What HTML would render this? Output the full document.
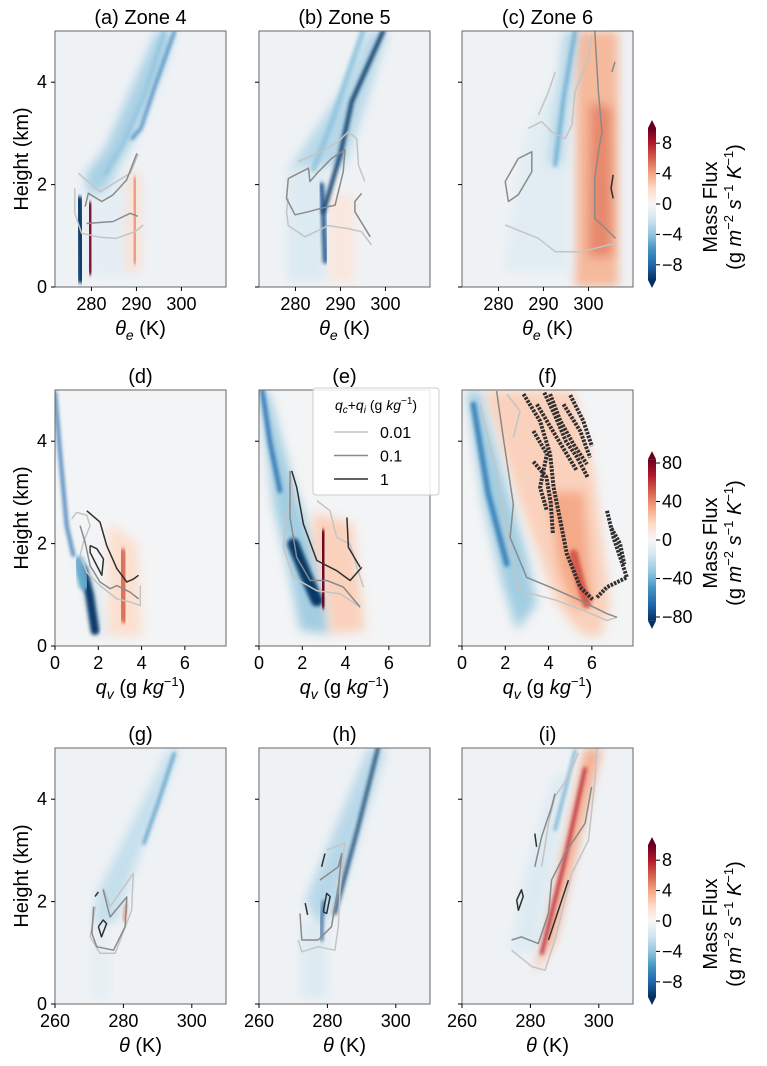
<!DOCTYPE html>
<html><head><meta charset="utf-8"><style>
html,body{margin:0;padding:0;background:#fff;}
svg{display:block;font-family:"Liberation Sans","DejaVu Sans",sans-serif;}
</style></head><body>
<svg id="fig" width="767" height="1066" viewBox="0 0 767 1066" xmlns="http://www.w3.org/2000/svg">
<defs>
<filter id="blurS" x="-50%" y="-50%" width="200%" height="200%"><feGaussianBlur stdDeviation="1.8"/></filter>
<filter id="blurA" x="-50%" y="-50%" width="200%" height="200%"><feGaussianBlur stdDeviation="5"/></filter>
</defs>
</svg>
<script>
// ---- data (x in axis units, height in km, values in Mass Flux units) ----
const aAreas=[[-1.0,[[279,0.2],[291,0.2],[291.5,2.2],[284,2.3],[278.5,2.0]]],[-3.5,[[279.5,1.8],[283,1.9],[290,3.0],[295.5,4.2],[298.5,5],[294.5,5],[289,3.9],[283,2.7],[278.5,2.2]]],[1.5,[[287.5,0.3],[291,0.3],[291,2.2],[288,2.3]]]];
const aStreaks=[[-10,1.8,[[277.7,0.15],[277.6,0.9],[277.3,1.7]]],[9.5,1.6,[[279.8,0.3],[279.7,1.0],[279.6,1.6]]],[3,1.0,[[286.8,0.4],[286.8,1.3]]],[4.5,1.4,[[289.6,0.5],[289.7,1.4],[289.5,2.1]]],[-2.5,0.7,[[282.5,0.5],[282.5,1.6]]],[-2,0.7,[[284.5,0.4],[284.5,1.5]]],[-7,0.6,[[289,2.9],[291,3.1],[294,3.9],[298.5,5]]],[-4,0.8,[[283,2.2],[287,2.8],[292,3.8],[296.2,5]]]];
const aC001=[[[277.1,2.22],[281.9,1.86],[288.6,2.22],[290.4,2.6]],[[276.3,1.93],[276.3,1.44],[277.8,1.05],[281.9,0.97],[285.5,0.95],[289.7,1.08],[291.5,1.21]]];
const aC01=[[[278.6,1.57],[279.3,1.83],[282.3,1.67],[284.8,1.8],[287.8,2.09],[290.1,2.61]],[[278.9,1.24],[284.8,1.28],[288.6,1.44],[290.3,1.38]]];
const aC1=[];

const bAreas=[[-3,[[278.4,2.25],[283,2.3],[291,2.38],[295,3.4],[300.6,5],[296.2,5],[290,3.8],[283,2.9]]],[-1.5,[[278,0.1],[287,0.1],[287,2.3],[278,2.3]]],[1.2,[[287.5,0.1],[293,0.1],[293,1.8],[287.5,1.8]]]];
const bStreaks=[[-10,0.9,[[286.2,1.47],[290,2.6],[292.5,3.62],[299.5,5]]],[-9,1.0,[[285.8,2.0],[286.2,1.4],[286.6,0.5]]],[-4,0.8,[[279.1,0.2],[279.1,1.9]]],[-4,0.8,[[282.1,0.2],[282.1,1.9]]],[-4,1.2,[[284,2.3],[288,3.2],[295,5]]],[3,0.8,[[288.8,0.2],[288.8,1.5]]],[2,0.8,[[291.7,0.1],[291.7,1.2]]]];
const bC001=[[[278.4,1.73],[278,1.47],[278.4,1.2],[282.1,0.98],[287.3,1.2],[291.7,1.14],[294.7,1.08],[296.9,0.82]],[[280.6,2.45],[285.8,2.64],[289.5,2.84],[291.7,3.03],[293.6,2.9],[294,2.38],[295.4,2.06]]];
const bC01=[[[278.4,2.12],[282.9,2.32],[283.2,2.06],[285.1,2.25],[288,2.51],[291,2.68],[290.6,2.25],[288.8,1.6],[285.8,1.54],[282.9,1.47],[279.9,1.41],[278,1.73],[278.4,2.12]],[[294.7,1.83],[293.2,1.67],[293.2,1.47],[296.6,0.98]]];
const bC1=[];

const cAreas=[[3.5,[[297,0],[306.6,0],[306.6,5],[297,5]]],[5,[[300,0.6],[305.2,0.6],[305,3.5],[300.5,3.6]]],[-1.2,[[281,0.3],[296,0.3],[296,3],[292,4],[286,3]]],[-3,[[291,2.4],[294,2.4],[298,5],[294.5,5]]]];
const cStreaks=[[7,1.2,[[303,1.2],[303,2.5]]],[2.5,0.8,[[288.9,0.5],[288.9,2.3]]],[2.5,0.8,[[294.8,0.3],[294.8,2.5]]],[-5,0.8,[[292.6,2.38],[294.5,3.7],[297,5]]],[-2.5,0.8,[[284.5,0.3],[284.5,2.0]]]];
const cC001=[[[281.5,1.21],[288.9,0.95],[292.6,0.69],[298.5,0.69],[304.4,0.82],[306.3,0.85]],[[286.6,3.1],[289.6,3.23],[291.8,3.03],[294.8,2.9],[296.3,3.16],[297,3.81],[300,4.47],[300.7,4.92]],[[288.9,3.36],[291.1,3.81],[292.6,4.2]]];
const cC01=[[[281.5,2.06],[284.4,2.51],[287.4,2.64],[287.4,2.25],[284.4,1.8],[282.2,1.67],[281.5,2.06]],[[301.4,5],[302.2,3.81],[303,3.03],[302.2,2.64],[301.4,2.12],[301.4,1.34],[303,1.21],[306,0.95]],[[305.2,4.2],[305.9,4.4]]];
const cC1=[[[305.5,2.19],[305,1.93],[305.5,1.73]]];

const dAreas=[[15,[[2.4,0.2],[4.0,0.2],[3.8,2.0],[2.5,2.4]]],[-15,[[0.9,1.8],[2.0,1.2],[2.3,0.2],[1.8,0.2]]]];
const dStreaks=[[-60,0.15,[[0,4.95],[0.23,3.78],[0.54,2.35],[0.85,1.77]]],[20,0.1,[[0.23,4.95],[0.23,4.43]]],[-80,0.4,[[1.3,1.5],[1.6,1.0],[1.85,0.3]]],[-40,0.5,[[1.1,1.65],[1.35,1.2]]],[80,0.2,[[2.2,1.38],[2.2,0.4]]],[45,0.5,[[3.1,1.8],[3.15,1.0],[3.2,0.55]]],[70,0.15,[[3.25,1.5],[3.25,0.7]]]];
const dC001=[[[0.77,2.48],[1.0,2.61],[1.47,2.55],[1.62,2.35],[1.31,2.03],[1.16,1.77],[1.47,1.44],[2.08,1.18],[2.86,0.92],[3.47,0.86],[3.94,0.79],[3.94,1.18]]];
const dC01=[[[1.16,2.35],[1.39,2.03],[1.62,1.57],[2.08,1.25],[2.55,1.12],[2.86,1.18],[3.47,1.05],[3.86,0.92]]];
const dC1=[[[1.47,2.64],[2.08,2.42],[2.39,1.96],[2.86,1.51],[3.32,1.25],[3.63,1.31],[3.86,1.38]],[[1.62,1.96],[1.93,1.9],[2.24,1.7],[2.16,1.38],[1.93,1.57],[1.62,1.83],[1.62,1.96]]];

const eAreas=[[-30,[[0.04,4.98],[0.66,2.77],[1.43,1.34],[1.9,0.3],[3.28,0.24],[3.13,0.82],[2.51,1.99],[1.43,3.42],[0.43,4.98]]],[20,[[2.5,2.6],[4.3,2.4],[4.9,0.3],[3.3,0.24],[3.13,0.82],[2.51,1.99]]]];
const eStreaks=[[-80,0.55,[[1.59,1.99],[2.2,1.35],[2.67,0.89]]],[-60,0.2,[[0.15,5],[0.5,4],[0.97,3.03]]],[80,0.6,[[2.95,2.15],[2.95,1.4],[3.0,0.85]]]];
const eC001=[[[1.43,3.42],[1.59,2.9],[1.28,2.58],[1.12,1.93],[1.59,1.34],[2.67,1.08],[3.75,1.02],[4.67,0.76]],[[2.67,2.84],[3.28,2.64],[3.59,2.12],[4.21,1.99],[4.52,1.54],[4.83,1.15]]];
const eC01=[[[1.43,3.42],[1.43,2.51],[1.74,1.73],[2.36,1.28],[3.13,1.28],[3.9,1.15],[4.67,0.76]]];
const eC1=[[[1.51,3.42],[1.74,3.1],[2.05,2.38],[2.67,1.67],[3.59,1.47],[4.21,1.28],[4.75,1.54]],[[4.06,2.51],[4.13,1.93],[4.67,1.54]]];

const fAreas=[[20,[[0.99,4.98],[2.68,2.77],[4.38,0.82],[5.46,0.24],[6.39,0.17],[6.85,0.82],[6.08,3.42],[5.15,4.98]]],[32,[[4.0,3.0],[5.6,3.0],[6.0,0.9],[5.2,0.7],[4.5,1.5]]],[-30,[[0.21,4.98],[0.99,2.77],[1.91,1.15],[2.53,0.3],[3.46,0.82],[2.99,1.8],[2.07,3.1],[0.83,4.98]]]];
const fStreaks=[[-55,0.25,[[0.52,4.72],[1.2,3.0],[2.07,1.6]]],[50,0.4,[[5.15,1.8],[5.5,1.2],[5.77,0.82]]]];
const fC001=[[[0.83,4.72],[1.6,3.42],[2.07,2.12],[2.68,1.08],[4.38,0.89],[5.62,0.69],[6.7,0.5],[7.16,0.56]],[[2.07,4.92],[2.68,4.59],[2.37,4.07]]];
const fC01=[[[1.6,4.98],[1.91,4.07],[2.37,2.77],[2.22,2.12],[2.99,1.34],[4.07,1.15],[5.46,0.89],[6.7,0.63],[7.16,0.56]]];
const fC1=[[[2.84,4.92],[3.61,4.39],[4.07,3.75],[4.23,3.1],[4.54,2.45],[4.84,1.8],[5.46,1.15],[6.08,0.89]],[[4.07,4.92],[4.54,4.4],[5.15,3.94],[5.77,3.55]],[[3.3,4.2],[3.92,3.75],[3.61,3.1],[3.92,2.64]],[[4.69,4.72],[5.46,4.2],[5.92,3.68]],[[6.7,2.64],[7.0,2.12],[7.31,1.73],[7.62,1.34],[6.7,1.15],[6.23,0.95]],[[3.46,4.72],[4.38,4.07],[5.31,3.42]],[[3.8,4.95],[4.3,4.5],[4.8,4.0],[5.3,3.7],[5.8,3.3]],[[3.3,3.6],[3.9,3.3],[4.1,2.8],[4.2,2.2]],[[5.0,4.9],[5.6,4.4],[6.0,3.9]],[[6.9,2.3],[7.3,2.0],[7.5,1.6]]];

const gAreas=[[-2.5,[[271.2,1.51],[272.2,2.16],[293.0,4.96],[296.4,4.96],[281.9,2.42],[278,1.6]]],[-1,[[270.5,0.1],[276,0.1],[276,1.4],[270.5,1.4]]]];
const gStreaks=[[-6,0.8,[[286,3.14],[290,3.9],[294.9,4.9]]],[-10,1.0,[[271.7,1.64],[271.7,0.99]]],[10,0.9,[[273.2,1.64],[273.2,1.12]]],[5,0.8,[[280.1,1.64],[281,1.95]]],[2,0.5,[[278.5,0.0],[278.5,0.8]]],[-3,0.5,[[272,0.0],[272,1.0]]],[2,0.5,[[273.5,0.0],[273.5,0.8]]]];
const gC001=[[[274.1,2.26],[276.1,1.9],[282.9,2.55],[282.4,1.83],[277.6,0.99],[273.2,0.99],[270.3,1.31],[271.8,1.9]]];
const gC01=[[[274.1,2.23],[276.1,1.7],[281,2.09],[280.5,1.51],[277.1,1.05],[272.2,1.12],[270.8,1.38],[271.3,1.9]]];
const gC1=[[[272.7,1.51],[274.1,1.64],[275.1,1.57],[273.6,1.31],[272.7,1.51]],[[271.7,2.1],[272.7,2.19]]];

const hAreas=[[-3,[[273.5,2.03],[278,1.4],[284.2,2.23],[297.3,5],[292,5]]],[-1.5,[[272,0.1],[280,0.1],[280,1.6],[272,1.6]]]];
const hStreaks=[[-10,0.9,[[282.2,1.77],[289,3.46],[294.9,5.03]]],[-9,0.8,[[278.3,1.25],[278.3,1.64],[279,2.0]]],[-4,0.6,[[278.3,0.2],[278.3,0.9]]],[9,0.5,[[279.3,1.38],[279.3,1.77]]]];
const hC001=[[[279.8,3.01],[285.1,3.14],[283.7,2.23],[283.2,1.51],[282.2,1.05],[277.3,1.12],[272.5,1.02],[271.5,1.25]]];
const hC01=[[[277.8,2.42],[283.2,2.68],[284.2,2.94],[283.2,2.29],[281.2,1.51],[277.3,1.25],[272.5,1.25],[272,1.77]]];
const hC1=[[[278.8,1.8],[279.8,2.16],[280.8,2.1],[279.8,1.77],[278.8,1.8]],[[273.5,1.97],[274.2,1.74]],[[278.3,2.68],[279.3,2.94]]];

const iAreas=[[4,[[281.3,0.6],[296,5],[300.8,5],[287.2,1.25]]],[-1.5,[[274,1.0],[282,1.0],[292,4.5],[287,4.5],[278,2.5]]]];
const iStreaks=[[8,0.9,[[283.3,0.99],[290,2.8],[296,4.6]]],[6,0.6,[[283.3,0.2],[283.3,0.8]]],[-6,0.6,[[287.2,3.4],[293.1,4.96]]],[3,0.5,[[277.4,0.4],[277.4,1.51]]]];
const iC001=[[[274.5,1.05],[280.4,0.73],[284.3,0.66],[287.2,1.25],[292.1,2.55],[297,3.2],[298.9,4.37],[299.4,5.03]],[[283.3,2.68],[285.3,3.53],[287.2,4.05],[291.1,4.44],[294,4.9]]];
const iC01=[[[274.5,1.25],[277.4,1.31],[282.3,1.18],[285.3,1.77],[286.2,2.42],[290.1,2.94],[296,3.53],[297.9,4.24]],[[281.3,2.68],[283.3,3.27],[286.2,3.85],[287.2,4.11]]];
const iC1=[[[276,2.03],[277.4,2.23],[277.9,2.1],[276.5,1.83],[276,2.03]],[[281.3,3.33],[281.8,3.07]],[[291.1,2.42],[285.3,1.25]]];

const yTicks=[0,2,4];
const xTicksTE=[280,290,300];
const xTicksQ=[0,2,4,6];
const xTicksT=[260,280,300];
const cbTicks1=[8,4,0,-4,-8];
const cbTicks2=[80,40,0,-40,-80];
const legendLevels=["0.01","0.1","1"];

// ---- layout ----
const NS="http://www.w3.org/2000/svg";
const svg=document.getElementById('fig');
function el(tag,attrs,parent){const e=document.createElementNS(NS,tag);for(const k in attrs)e.setAttribute(k,attrs[k]);(parent||svg).appendChild(e);return e;}
const colL=[55,259,462], W=171, rowT=[31,390,748], H=256;
const rows=[
 {x0:271.9,x1:309.9,vmax:10,ticks:xTicksTE,bg:"#eff2f5",xlab:"te"},
 {x0:0,x1:7.9,vmax:80,ticks:xTicksQ,bg:"#f3f4f5",xlab:"q"},
 {x0:260,x1:310,vmax:10,ticks:xTicksT,bg:"#eff2f5",xlab:"t"}];
const titles=[["(a) Zone 4","(b) Zone 5","(c) Zone 6"],["(d)","(e)","(f)"],["(g)","(h)","(i)"]];
const data=[[[aAreas,aStreaks,aC001,aC01,aC1],[bAreas,bStreaks,bC001,bC01,bC1],[cAreas,cStreaks,cC001,cC01,cC1]],
 [[dAreas,dStreaks,dC001,dC01,dC1],[eAreas,eStreaks,eC001,eC01,eC1],[fAreas,fStreaks,fC001,fC01,fC1]],
 [[gAreas,gStreaks,gC001,gC01,gC1],[hAreas,hStreaks,hC001,hC01,hC1],[iAreas,iStreaks,iC001,iC01,iC1]]];
const stops=["#053061","#2166ac","#4393c3","#92c5de","#d1e5f0","#f7f7f7","#fddbc7","#f4a582","#d6604d","#b2182b","#67001f"];
function hex(c){return [1,3,5].map(i=>parseInt(c.substr(i,2),16));}
function cmap(v,vmax){let t=(v/vmax+1)/2;t=Math.max(0,Math.min(1,t));const f=t*10,i=Math.min(9,Math.floor(f)),r=f-i;const a=hex(stops[i]),b=hex(stops[i+1]);return "rgb("+a.map((x,k)=>Math.round(x+(b[k]-x)*r)).join(",")+")";}
const cCol=["#c4c4c4","#8a8a8a","#2f2f2f"];
const cName=["contour-0.01","contour-0.1","contour-1"];

for(let r=0;r<3;r++)for(let c=0;c<3;c++){
 const R=rows[r],L=colL[c],T=rowT[r],B=T+H;
 const sx=x=>L+(x-R.x0)/(R.x1-R.x0)*W, sy=h=>B-h/5*H;
 const pid="p"+r+c;
 const g=el('g',{});
 
 
 const cp=el('clipPath',{id:'clip'+pid},g);el('rect',{x:L,y:T,width:W,height:H},cp);
 const bg=el('rect',{x:L,y:T,width:W,height:H,fill:R.bg},g);
 
 
 const heat=el('g',{'clip-path':'url(#clip'+pid+')'},g);
 
 
 const [areas,streaks,c001,c01,c1]=data[r][c];
 const pts=a=>a.map(p=>sx(p[0]).toFixed(1)+","+sy(p[1]).toFixed(1)).join(" ");
 areas.forEach(a=>{const e=el('polygon',{points:pts(a[1]),fill:cmap(a[0],R.vmax),filter:'url(#blurA)',opacity:0.9},heat);
  
  });
 const pxu=W/(R.x1-R.x0);
 streaks.forEach(s=>{const e=el('polyline',{points:pts(s[2]),fill:'none',stroke:cmap(s[0],R.vmax),'stroke-width':Math.max(2,s[1]*pxu),'stroke-linecap':'round','stroke-linejoin':'round',filter:'url(#blurS)',opacity:0.95},heat);
  
  });
 [c001,c01,c1].forEach((set,k)=>set.forEach(line=>{
  const dense=(r===1&&c===2&&k===2);
  const e=el('polyline',{points:pts(line),fill:'none',stroke:cCol[k],'stroke-width':dense?4:1.5,'stroke-dasharray':dense?'2.5 1.2':'none','stroke-linejoin':'round'},heat);
  
  }));
 const fr=el('rect',{x:L,y:T,width:W,height:H,fill:'none',stroke:'#666','stroke-width':1},g);
 
 
 yTicks.forEach(t=>{const tk=el('line',{x1:L-4,x2:L,y1:sy(t),y2:sy(t),stroke:'#000'},g);
  
  
  if(c===0){const tl=el('text',{x:L-8,y:sy(t)+6,'text-anchor':'end','font-size':18},g);tl.textContent=t;
   
   }});
 R.ticks.forEach(t=>{const tk=el('line',{x1:sx(t),x2:sx(t),y1:B,y2:B+4,stroke:'#000'},g);
  
  
  const tl=el('text',{x:sx(t),y:B+23,'text-anchor':'middle','font-size':18},g);tl.textContent=t;
  
  });
 const ti=el('text',{x:L+W/2,y:T-7,'text-anchor':'middle','font-size':20},g);ti.textContent=titles[r][c];
 
 
 const xl=el('text',{x:L+W/2,y:B+48,'text-anchor':'middle','font-size':20},g);
 
 
 if(R.xlab==='te')xl.innerHTML='<tspan font-style="italic">θ</tspan><tspan font-style="italic" font-size="14" dy="5">e</tspan><tspan dy="-5"> (K)</tspan>';
 else if(R.xlab==='q')xl.innerHTML='<tspan font-style="italic">q</tspan><tspan font-style="italic" font-size="14" dy="5">v</tspan><tspan dy="-5"> (g </tspan><tspan font-style="italic">kg</tspan><tspan font-size="13" dy="-8">−1</tspan><tspan dy="8">)</tspan>';
 else xl.innerHTML='<tspan font-style="italic">θ</tspan> (K)';
 if(c===0){const yl=el('text',{x:0,y:0,'text-anchor':'middle','font-size':20,transform:'translate(28,'+(T+H/2)+') rotate(-90)'},g);yl.textContent='Height (km)';
  
  }
}

// ---- colorbars ----
const gradDefs=svg.querySelector('defs');
const lg=el('linearGradient',{id:'cbgrad',x1:0,y1:1,x2:0,y2:0},gradDefs);
stops.forEach((s,i)=>el('stop',{offset:(i/10),'stop-color':s},lg));
const cbs=[{zero:204,ppu:7.6,vmax:10,bar:10,ticks:cbTicks1,lab:207},{zero:540,ppu:0.9625,vmax:80,bar:84,ticks:cbTicks2,lab:543},{zero:921,ppu:7.6,vmax:10,bar:10,ticks:cbTicks1,lab:924}];
cbs.forEach((cb,i)=>{
 const g=el('g',{});
 
 
 const yv=v=>cb.zero-v*cb.ppu, x0=648,x1=656;
 const top=yv(cb.bar),bot=yv(-cb.bar);
 el('rect',{x:x0,y:top,width:x1-x0,height:bot-top,fill:'url(#cbgrad)'},g);
 el('polygon',{points:x0+','+top+' '+x1+','+top+' '+(x0+x1)/2+','+(top-8),fill:stops[10]},g);
 el('polygon',{points:x0+','+bot+' '+x1+','+bot+' '+(x0+x1)/2+','+(bot+8),fill:stops[0]},g);
 cb.ticks.forEach(t=>{el('line',{x1:x1,x2:x1+4,y1:yv(t),y2:yv(t),stroke:'#000'},g);
  const tl=el('text',{x:x1+6,y:yv(t)+6,'font-size':18},g);tl.textContent=t<0?'−'+(-t):String(t);
  
  });
 const l1=el('text',{'text-anchor':'middle','font-size':20,transform:'translate(717,'+cb.lab+') rotate(-90)'},g);l1.textContent='Mass Flux';
 
 
 const l2=el('text',{'text-anchor':'middle','font-size':20,transform:'translate(741,'+cb.lab+') rotate(-90)'},g);
 l2.innerHTML='(g <tspan font-style="italic">m</tspan><tspan font-size="13" dy="-8">−2</tspan><tspan dy="8"> </tspan><tspan font-style="italic">s</tspan><tspan font-size="13" dy="-8">−1</tspan><tspan dy="8"> </tspan><tspan font-style="italic">K</tspan><tspan font-size="13" dy="-8">−1</tspan><tspan dy="8">)</tspan>';
 
 
});

// ---- legend ----
const lgG=el('g',{});


el('rect',{x:313,y:388,width:126,height:107,rx:3,fill:'#fff','fill-opacity':0.85,stroke:'#ccc'},lgG);
const lt=el('text',{x:376,y:410,'text-anchor':'middle','font-size':14},lgG);
lt.innerHTML='<tspan font-style="italic">q</tspan><tspan font-style="italic" font-size="10" dy="3">c</tspan><tspan dy="-3">+</tspan><tspan font-style="italic">q</tspan><tspan font-style="italic" font-size="10" dy="3">i</tspan><tspan dy="-3"> (g </tspan><tspan font-style="italic">kg</tspan><tspan font-size="10" dy="-6">−1</tspan><tspan dy="6">)</tspan>';


legendLevels.forEach((lv,k)=>{const y=432+k*23.5;
 const ln=el('line',{x1:334,x2:368,y1:y,y2:y,stroke:cCol[k],'stroke-width':1.6},lgG);
 
 
 const tx=el('text',{x:380,y:y+6,'font-size':16},lgG);tx.textContent=lv;
 
 });
</script>
</body></html>
